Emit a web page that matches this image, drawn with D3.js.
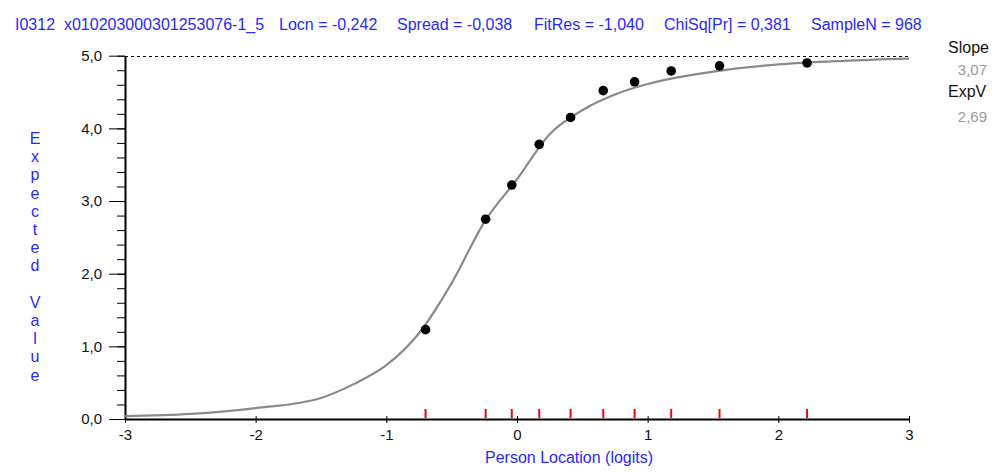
<!DOCTYPE html>
<html>
<head>
<meta charset="utf-8">
<script src="https://cdn.jsdelivr.net/npm/d3@7"></script>
<style>
  body { margin: 0; background: #fff; }
  svg text { font-family: "Liberation Sans", Arial, sans-serif; }
</style>
</head>
<body>
<div id="chart"></div>
<script>
// header texts along the top
var headerLabels = ["I0312  x010203000301253076-1_5", "Locn = -0,242", "Spread = -0,038",
                    "FitRes = -1,040", "ChiSq[Pr] = 0,381", "SampleN = 968"];
var headerX = [15, 279, 397, 534, 664, 811];

// side statistics
var sideNames = ["Slope", "ExpV"];
var sideValues = ["3,07", "2,69"];

// axis ticks
var xTicks = [-3, -2, -1, 0, 1, 2, 3];
var yTicks = [0, 1, 2, 3, 4, 5];

// expected value curve
var curveX = [-3, -2.5, -2, -1.5, -1.25, -1, -0.75, -0.5, -0.25, 0, 0.25, 0.5, 0.8, 1, 1.5, 2, 2.5, 3];
var curveY = [0.04, 0.07, 0.15, 0.29, 0.48, 0.74, 1.18, 1.87, 2.71, 3.30, 3.92, 4.25, 4.50, 4.61, 4.78, 4.88, 4.93, 4.96];

// observed class interval means
var dotX = [-0.70, -0.24, -0.04, 0.17, 0.41, 0.66, 0.90, 1.18, 1.55, 2.22];
var dotY = [1.23, 2.75, 3.22, 3.78, 4.15, 4.52, 4.64, 4.79, 4.86, 4.90];

var width = 997, height = 472;
var blue = "#2828ff";

var comma = d3.formatLocale({decimal: ",", thousands: ".", grouping: [3], currency: ["", ""], minus: "-"});
var fmtY = comma.format(".1f");
var fmtX = function(d) { return String(d); };

var x = d3.scaleLinear().domain([-3, 3]).range([125, 909]);
var y = d3.scaleLinear().domain([0, 5]).range([419, 55.7]);

var svg = d3.select("#chart")
    .append("svg")
    .attr("width", width)
    .attr("height", height);

// header
svg.selectAll("text.head")
    .data(headerLabels)
    .enter()
    .append("text")
    .attr("class", "head")
    .attr("x", function(d, i) { return headerX[i]; })
    .attr("y", 30)
    .attr("fill", blue)
    .style("font-size", "16px")
    .style("white-space", "pre")
    .attr("xml:space", "preserve")
    .text(function(d) { return d; });

// side stats
sideNames.forEach(function(n, i) {
    svg.append("text")
        .attr("x", 948)
        .attr("y", 53 + i * 44)
        .attr("fill", "#111")
        .style("font-size", "16px")
        .text(n);
    svg.append("text")
        .attr("x", 987)
        .attr("y", 75 + i * 47)
        .attr("text-anchor", "end")
        .attr("fill", "#9a9a9a")
        .style("font-size", "15px")
        .text(sideValues[i]);
});

// dashed max line
svg.append("line")
    .attr("x1", x(-3)).attr("x2", x(3))
    .attr("y1", Math.round(y(5)) + 0.5).attr("y2", Math.round(y(5)) + 0.5)
    .attr("stroke", "#000")
    .attr("stroke-dasharray", "3,3");

// y axis: minor ticks then major ticks
svg.append("g")
    .attr("transform", "translate(" + x(-3) + ",0)")
    .call(d3.axisLeft(y).tickValues(d3.range(0, 5.01, 0.2)).tickSize(8).tickFormat(""))
    .call(function(g) { g.select(".domain").remove(); })
    .selectAll("line").attr("stroke", "#000");

var yAxis = svg.append("g")
    .attr("transform", "translate(" + x(-3) + ",0)")
    .call(d3.axisLeft(y).tickValues(yTicks).tickSize(16).tickSizeOuter(0).tickFormat(fmtY).tickPadding(7));
yAxis.select(".domain").attr("stroke", "#000").attr("stroke-width", 2);
yAxis.selectAll("text").style("font-size", "15px").attr("fill", "#111").style("font-family", "Liberation Sans, Arial, sans-serif");

// x axis
var xAxis = svg.append("g")
    .attr("transform", "translate(0," + y(0) + ")")
    .call(d3.axisBottom(x).tickValues(xTicks).tickSize(4).tickSizeOuter(0).tickFormat(fmtX).tickPadding(6));
xAxis.select(".domain").attr("stroke", "#000").attr("stroke-width", 2);
xAxis.selectAll(".tick line").attr("y1", -3);
xAxis.selectAll("text").style("font-size", "15px").attr("fill", "#111").style("font-family", "Liberation Sans, Arial, sans-serif");

// red markers of class interval locations
svg.selectAll("line.mark")
    .data(dotX)
    .enter()
    .append("line")
    .attr("class", "mark")
    .attr("x1", function(d) { return x(d); })
    .attr("x2", function(d) { return x(d); })
    .attr("y1", y(0) - 10)
    .attr("y2", y(0) - 1)
    .attr("stroke", "#ff0000")
    .attr("stroke-width", 2);

// expected value curve
var line = d3.line()
    .curve(d3.curveMonotoneX)
    .x(function(d) { return x(d[0]); })
    .y(function(d) { return y(d[1]); });

svg.append("path")
    .datum(d3.zip(curveX, curveY))
    .attr("d", line)
    .attr("fill", "none")
    .attr("stroke", "#8a8a8a")
    .attr("stroke-width", 2.2);

// observed means
svg.selectAll("circle")
    .data(d3.zip(dotX, dotY))
    .enter()
    .append("circle")
    .attr("cx", function(d) { return x(d[0]); })
    .attr("cy", function(d) { return y(d[1]); })
    .attr("r", 4.8)
    .attr("fill", "#000");

// axis titles
svg.append("text")
    .attr("x", 485)
    .attr("y", 463)
    .attr("fill", blue)
    .style("font-size", "16px")
    .text("Person Location (logits)");

var yTitle = "Expected Value".split("");
svg.selectAll("text.ytitle")
    .data(yTitle)
    .enter()
    .append("text")
    .attr("class", "ytitle")
    .attr("x", 35)
    .attr("y", function(d, i) { return 144 + i * 18.2; })
    .attr("text-anchor", "middle")
    .attr("fill", blue)
    .style("font-size", "16px")
    .text(function(d) { return d; });
</script>
</body>
</html>
